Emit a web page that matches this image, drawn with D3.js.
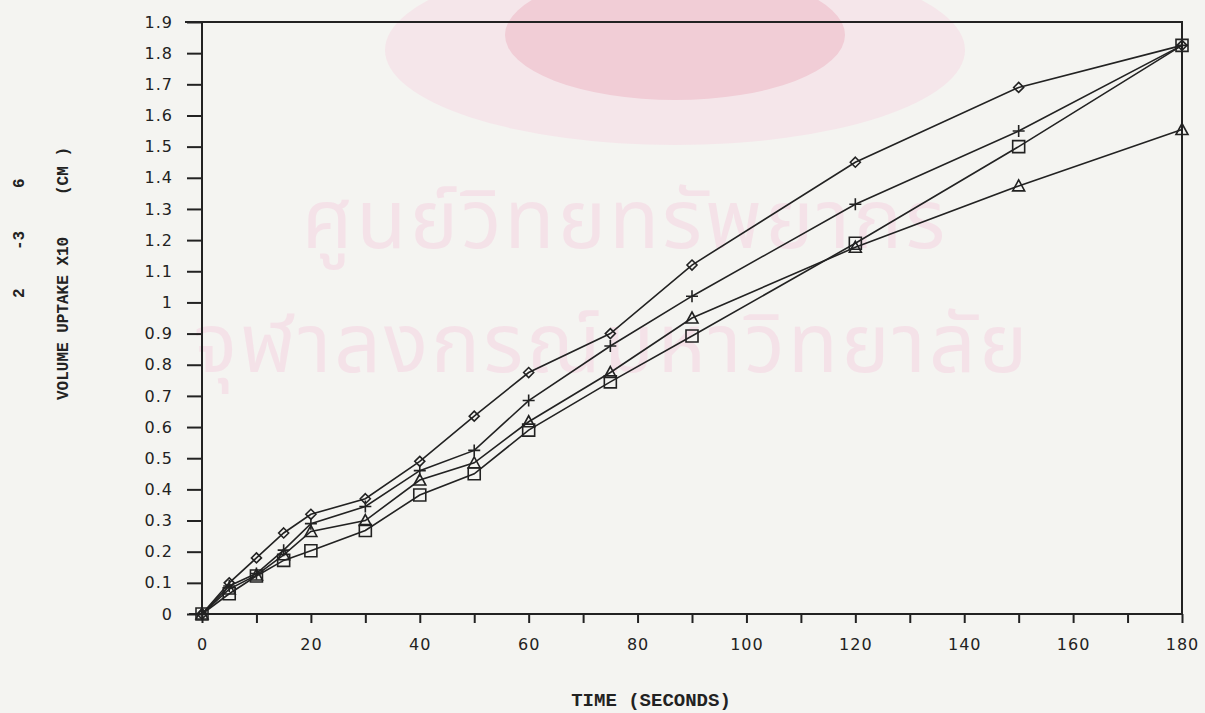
<!DOCTYPE html>
<html>
<head>
<meta charset="utf-8">
<script src="https://cdn.jsdelivr.net/npm/d3@7"></script>
<style>
  html, body { margin: 0; padding: 0; background: #f4f4f1; }
  svg { display: block; }
  .tick text { font-family: "DejaVu Sans", sans-serif; font-size: 16px; letter-spacing: 1px; fill: #222; }
  .tick line { stroke: #222; stroke-width: 2; }
  .ttl { font-family: "Courier New", "Liberation Mono", monospace; font-weight: bold; fill: #222; }
</style>
</head>
<body>
<svg id="chart" width="1205" height="713"></svg>
<script>
// sample times (s)
const times = [0, 5, 10, 15, 20, 30, 40, 50, 60, 75, 90, 120, 150, 180];

// volume uptake, one array per curve
const diamondVals  = [0, 0.10, 0.18, 0.26, 0.32, 0.37, 0.49, 0.635, 0.775, 0.90, 1.12, 1.45, 1.69, 1.825];
const plusVals     = [0, 0.09, 0.13, 0.205, 0.29, 0.345, 0.46, 0.525, 0.685, 0.86, 1.02, 1.315, 1.55, 1.825];
const triangleVals = [0, 0.08, 0.125, 0.19, 0.265, 0.30, 0.43, 0.485, 0.617, 0.775, 0.95, 1.177, 1.374, 1.555];
const squareVals   = [0, 0.065, 0.122, 0.172, 0.203, 0.268, 0.382, 0.45, 0.59, 0.745, 0.892, 1.19, 1.50, 1.825];

const xTicks = [0, 10, 20, 30, 40, 50, 60, 70, 80, 90, 100, 110, 120, 130, 140, 150, 160, 170, 180];
const xLabels = ["0", "", "20", "", "40", "", "60", "", "80", "", "100", "", "120", "", "140", "", "160", "", "180"];
const yTicks = [0, 0.1, 0.2, 0.3, 0.4, 0.5, 0.6, 0.7, 0.8, 0.9, 1, 1.1, 1.2, 1.3, 1.4, 1.5, 1.6, 1.7, 1.8, 1.9];
const yLabels = ["0", "0.1", "0.2", "0.3", "0.4", "0.5", "0.6", "0.7", "0.8", "0.9", "1", "1.1", "1.2", "1.3", "1.4", "1.5", "1.6", "1.7", "1.8", "1.9"];

const svg = d3.select("#chart");
const x = d3.scaleLinear().domain([0, 180]).range([202, 1182]);
const y = d3.scaleLinear().domain([0, 1.9]).range([614, 22]);

// faint library watermark behind the plot
const wm = svg.append("g").attr("fill", "#f4e2e8");
wm.append("ellipse").attr("cx", 675).attr("cy", 50).attr("rx", 290).attr("ry", 95).attr("fill", "#f5e6ea");
wm.append("ellipse").attr("cx", 675).attr("cy", 35).attr("rx", 170).attr("ry", 65).attr("fill", "#f1cdd6");
wm.append("text").attr("x", 625).attr("y", 248).attr("text-anchor", "middle")
  .style("font-family", "'Noto Sans Thai', 'Noto Sans', 'DejaVu Sans', sans-serif").style("font-size", "82px")
  .style("letter-spacing", "3px")
  .text("ศูนย์วิทยทรัพยากร");
wm.append("text").attr("x", 612).attr("y", 372).attr("text-anchor", "middle")
  .style("font-family", "'Noto Sans Thai', 'Noto Sans', 'DejaVu Sans', sans-serif").style("font-size", "82px")
  .style("letter-spacing", "3px")
  .text("จุฬาลงกรณ์มหาวิทยาลัย");

// frame
svg.append("path")
  .attr("d", `M${x(0) - 17},${y(1.9)}H${x(180)}V${y(0)}H${x(0) - 13}M${x(0)},${y(1.9)}V${y(0)}`)
  .attr("fill", "none").attr("stroke", "#222").attr("stroke-width", 2);

const yAxis = svg.append("g")
  .attr("transform", `translate(${x(0)},0)`)
  .call(d3.axisLeft(y).tickValues(yTicks).tickSize(15).tickPadding(14).tickFormat((d, i) => yLabels[i]));
yAxis.select(".domain").remove();

const xAxis = svg.append("g")
  .attr("transform", `translate(0,${y(0)})`)
  .call(d3.axisBottom(x).tickValues(xTicks).tickSize(9).tickPadding(16).tickFormat((d, i) => xLabels[i]));
xAxis.select(".domain").remove();

// axis titles
svg.append("text").attr("class", "ttl").attr("x", 651).attr("y", 706)
  .attr("text-anchor", "middle").style("font-size", "19px").text("TIME (SECONDS)");

const yt = svg.append("g").attr("transform", "translate(68,0) rotate(-90)");
yt.append("text").attr("class", "ttl").attr("x", -400).attr("y", 0)
  .style("font-size", "16px").text("VOLUME UPTAKE X10");
yt.append("text").attr("class", "ttl").attr("x", -195).attr("y", 0)
  .style("font-size", "16px").text("(CM )");
yt.append("text").attr("class", "ttl").attr("x", -298).attr("y", -44).style("font-size", "16px").text("2");
yt.append("text").attr("class", "ttl").attr("x", -250).attr("y", -44).style("font-size", "16px").text("-3");
yt.append("text").attr("class", "ttl").attr("x", -188).attr("y", -44).style("font-size", "16px").text("6");

// markers
const shapes = {
  diamond: "M0,-5L5,0L0,5L-5,0Z",
  plus: "M-6,0H6M0,-6V6",
  triangle: "M0,-6L6,5H-6Z",
  square: "M-6,-6H6V6H-6Z"
};

const series = [
  { vals: diamondVals, shape: "diamond" },
  { vals: plusVals, shape: "plus" },
  { vals: triangleVals, shape: "triangle" },
  { vals: squareVals, shape: "square" }
];

const line = d3.line().x(d => x(d[0])).y(d => y(d[1]));

series.forEach(s => {
  const pts = times.map((t, i) => [t, s.vals[i]]);
  svg.append("path").datum(pts).attr("d", line)
    .attr("fill", "none").attr("stroke", "#222").attr("stroke-width", 1.6);
  svg.selectAll(null).data(pts).enter().append("path")
    .attr("transform", d => `translate(${x(d[0])},${y(d[1])})`)
    .attr("d", shapes[s.shape])
    .attr("fill", "none").attr("stroke", "#222").attr("stroke-width", 1.6);
});
</script>
</body>
</html>
